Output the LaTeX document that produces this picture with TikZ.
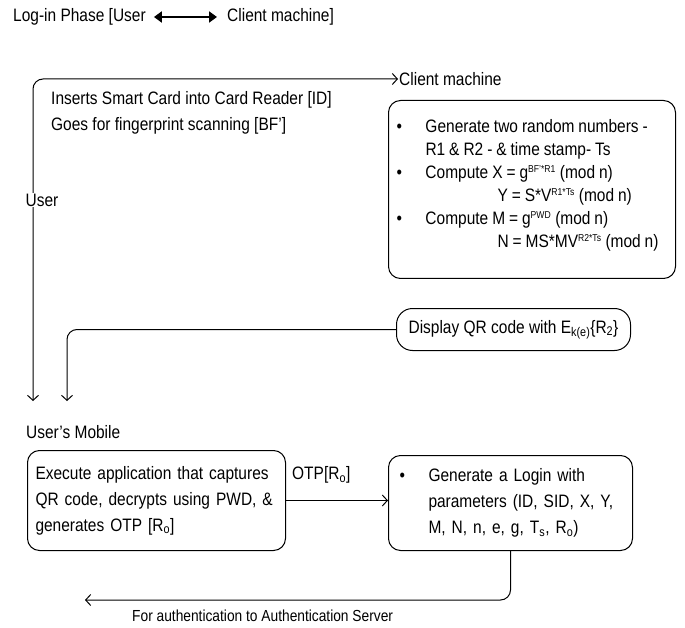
\documentclass[tikz,border=0pt]{standalone}
\usepackage{fontspec}
\setmainfont[FakeStretch=0.86]{Liberation Sans}
\usetikzlibrary{arrows.meta}

\tikzset{
  lbl/.style={inner sep=1pt, anchor=west},
  box/.style={draw, line width=1pt, rounded corners=12pt, anchor=north west, inner ysep=0pt, align=left},
  flow/.style={line width=1pt, -{Straight Barb[length=5pt,width=11pt]}},
}
\newcommand{\bul}[1]{\makebox[#1][l]{\textbullet}}
\newcommand{\supx}[1]{\textsuperscript{\fontsize{10}{10}\selectfont #1}}

\begin{document}
\begin{tikzpicture}[x=1pt, y=-1pt, font=\fontsize{18}{23}\selectfont]
    \useasboundingbox (0,0) rectangle (685,628);

    % Heading
    \node[lbl] (head1) at (12,17) {Log-in Phase [User};
    \node[lbl] (head2) at (226,17) {Client machine]};
    \draw[line width=2.4pt, {Triangle[length=8pt,width=11pt]}-{Triangle[length=8pt,width=11pt]},
          shorten <=7pt, shorten >=9pt] (head1.east) -- (head2.west);

    % User -> Client machine
    \node[lbl] (climach) at (398,79) {Client machine};
    \coordinate (usrdown) at (33,401);
    \draw[flow, {Straight Barb[length=5pt,width=11pt]}-{Straight Barb[length=5pt,width=11pt]}, rounded corners=10pt]
        (usrdown) |- (climach.west);
    \node[fill=white, inner sep=1pt] (user) at (42,200) {User};
    \node[lbl, align=left, anchor=north west] (steps) at (50,90)
        {Inserts Smart Card into Card Reader [ID]\\[3pt] Goes for fingerprint scanning [BF']};

    % Client machine work
    \node[box, inner xsep=8pt, text width=271pt, minimum height=178pt] (clientbox) at (388,100)
        {\spaceskip=0.22em plus 0.1em
         \bul{29pt}Generate two random numbers -\\
         \hspace*{29pt}R1 \& R2 - \& time stamp- Ts\\
         \bul{29pt}Compute X = g\supx{BF'*R1} (mod n)\\
         \hspace*{101pt}\mbox{Y = S*V\supx{R1*Ts} (mod n)}\\
         \bul{29pt}Compute M = g\supx{PWD} (mod n)\\
         \hspace*{101pt}\mbox{N = MS*MV\supx{R2*Ts} (mod n)}\\[-11pt]\mbox{}};

    % QR code back to the mobile
    \node[box, rounded corners=16pt, inner xsep=2pt, minimum width=234pt, minimum height=42pt] (qrbox) at (396,308)
        {Display QR code with E\textsubscript{k(e)}\{R\textsubscript{2}\}};
    \coordinate (mobdown) at (67,401);
    \draw[flow, rounded corners=10pt] (qrbox.west) -| (mobdown);

    % User's Mobile
    \node[lbl] (mobile) at (25,432) {User's Mobile};
    \node[box, inner xsep=8pt, text width=242pt, minimum height=100pt, font=\fontsize{18}{26}\selectfont] (execbox) at (27,450)
        {Execute application that captures\\
         QR code, decrypts using PWD, \&\\
         generates OTP [R\textsubscript{o}]};
    \node[box, inner xsep=11pt, text width=222pt, minimum height=95pt, font=\fontsize{18}{26}\selectfont] (loginbox) at (388,455)
        {\bul{29pt}Generate a Login with\\
         \hspace*{29pt}parameters (ID, SID, X, Y,\\
         \hspace*{29pt}M, N, n, e, g, T\textsubscript{s}, R\textsubscript{o})};
    \draw[flow] (execbox.east) -- (execbox.east -| loginbox.west);
    \node[lbl] (otp) at (291,475) {OTP[R\textsubscript{o}]};

    % On to the server
    \coordinate (authend) at (85,600);
    \draw[flow, rounded corners=10pt] (loginbox.south) |- (authend);
    \node[lbl, font=\fontsize{16}{20}\selectfont] (authtxt) at (131,616) {For authentication to Authentication Server};
\end{tikzpicture}
\end{document}
